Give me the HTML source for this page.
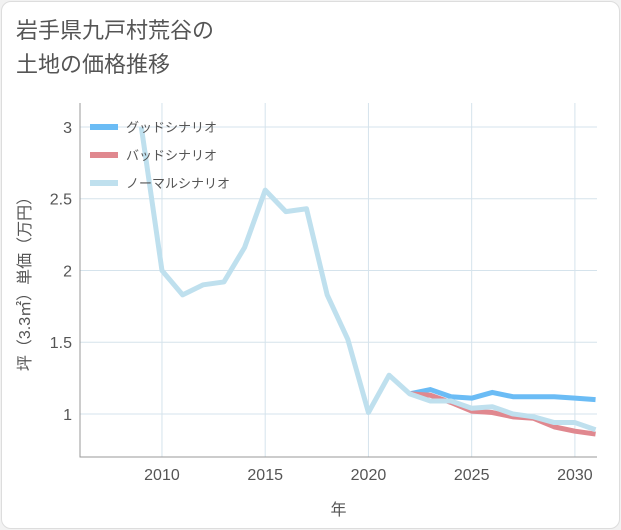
<!DOCTYPE html>
<html><head><meta charset="utf-8"><style>
body{margin:0;background:#f2f2f2;font-family:"Liberation Sans","Noto Sans CJK JP",sans-serif;}
#card{position:absolute;left:1px;top:1px;width:617px;height:526px;background:#fff;border:1px solid #ddd;border-radius:10px;}
#title{position:absolute;left:16px;top:14px;font-size:22px;line-height:34px;color:#555;}
svg{position:absolute;left:0;top:0}
</style></head><body>
<div id="card"></div>
<div id="title">岩手県九戸村荒谷の<br>土地の価格推移</div>
<svg id="chart" width="621" height="530"></svg>
<script>
const years=[2009,2010,2011,2012,2013,2014,2015,2016,2017,2018,2019,2020,2021,2022,2023,2024,2025,2026,2027,2028,2029,2030,2031];
const normal=[3.0,2.0,1.83,1.9,1.92,2.16,2.56,2.41,2.43,1.83,1.52,1.01,1.27,1.14,1.09,1.09,1.04,1.05,1.0,0.98,0.94,0.94,0.89];
const futYears=[2022,2023,2024,2025,2026,2027,2028,2029,2030,2031];
const good=[1.14,1.17,1.12,1.11,1.15,1.12,1.12,1.12,1.11,1.10];
const bad=[1.14,1.13,1.08,1.02,1.01,0.98,0.97,0.91,0.88,0.86];
const xTicks=[2010,2015,2020,2025,2030];
const yTicks=[1,1.5,2,2.5,3];
const L=80,R=597,T=103,B=457;
const x=v=>L+(v-2006.03)*(R-L)/(2031.07-2006.03);
const y=v=>B-(v-0.70)*(B-T)/(3.167-0.70);
const svg=document.getElementById('chart');
const NS='http://www.w3.org/2000/svg';
function mk(t,a,p){const e=document.createElementNS(NS,t);for(const k in a)e.setAttribute(k,a[k]);(p||svg).appendChild(e);return e;}
xTicks.forEach(v=>{const l=mk('line',{x1:x(v),x2:x(v),y1:T,y2:B,stroke:'#d5e3ec'});

const t=mk('text',{x:x(v),y:B+23,'text-anchor':'middle','font-size':16,fill:'#555'});t.textContent=v;
});
yTicks.forEach(v=>{const l=mk('line',{x1:L,x2:R,y1:y(v),y2:y(v),stroke:'#d5e3ec'});

const t=mk('text',{x:L-8,y:y(v)+6,'text-anchor':'end','font-size':16,fill:'#555'});t.textContent=v;
});
const ax=mk('path',{d:`M${L},${T}V${B}H${R}`,stroke:'#999',fill:'none'});

function line(xs,ys,c,name){const p=mk('polyline',{points:xs.map((v,i)=>x(v)+','+y(ys[i])).join(' '),fill:'none',stroke:c,'stroke-width':5,'stroke-linejoin':'round'});
}
line(futYears,good,'#6bbcf5','good-scenario-line');
line(futYears,bad,'#e0888f','bad-scenario-line');
line(years,normal,'#bfe0ee','normal-scenario-line');
const leg=[['グッドシナリオ','#6bbcf5'],['バッドシナリオ','#e0888f'],['ノーマルシナリオ','#bfe0ee']];
leg.forEach((d,i)=>{const yy=127+i*28;
const s=mk('line',{x1:90,x2:118,y1:yy,y2:yy,stroke:d[1],'stroke-width':6});

const t=mk('text',{x:126,y:yy+5,'font-size':13,fill:'#555'});t.textContent=d[0];
});
const xt=mk('text',{x:(L+R)/2,y:515,'text-anchor':'middle','font-size':16,fill:'#555'});xt.textContent='年';

const yt=mk('text',{x:0,y:0,'text-anchor':'middle','font-size':16,fill:'#555',transform:`translate(30,${(T+B)/2}) rotate(-90)`});yt.textContent='坪（3.3㎡）単価（万円）';

</script>
</body></html>
